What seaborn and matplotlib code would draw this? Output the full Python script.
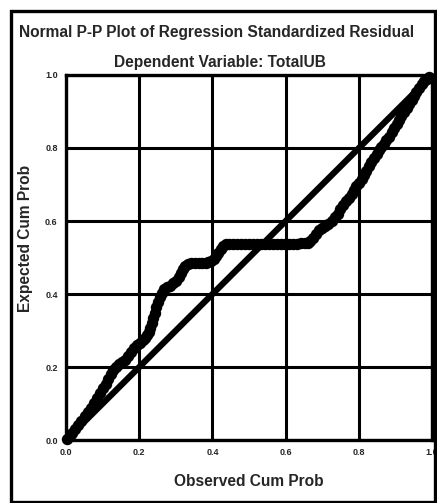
import numpy as np
import pandas as pd
import matplotlib
matplotlib.use("Agg")
import matplotlib.pyplot as plt
import seaborn as sns

# values
observed = [0.003, 0.010, 0.016, 0.024, 0.033, 0.042, 0.052, 0.060, 0.068, 0.076,
            0.085, 0.093, 0.101, 0.108, 0.115, 0.122, 0.129, 0.137, 0.145, 0.153,
            0.162, 0.170, 0.178, 0.186, 0.195, 0.203, 0.211, 0.217, 0.222, 0.226,
            0.230, 0.234, 0.238, 0.242, 0.247, 0.252, 0.258, 0.263, 0.268, 0.276,
            0.285, 0.293, 0.301, 0.308, 0.315, 0.320, 0.326, 0.334, 0.342, 0.352,
            0.362, 0.372, 0.381, 0.389, 0.397, 0.404, 0.411, 0.416, 0.422, 0.429,
            0.436, 0.445, 0.455, 0.466, 0.477, 0.488, 0.499, 0.510, 0.521, 0.532,
            0.543, 0.554, 0.565, 0.576, 0.587, 0.598, 0.609, 0.620, 0.631, 0.642,
            0.652, 0.660, 0.667, 0.674, 0.682, 0.690, 0.698, 0.707, 0.716, 0.726,
            0.734, 0.742, 0.749, 0.756, 0.764, 0.773, 0.780, 0.786, 0.793, 0.800,
            0.807, 0.814, 0.820, 0.827, 0.834, 0.841, 0.848, 0.855, 0.861, 0.868,
            0.875, 0.882, 0.889, 0.896, 0.903, 0.910, 0.916, 0.923, 0.930, 0.937,
            0.944, 0.951, 0.957, 0.964, 0.971, 0.978, 0.985, 0.992]
expected = [0.003, 0.011, 0.019, 0.030, 0.041, 0.053, 0.066, 0.077, 0.088, 0.101,
            0.115, 0.128, 0.142, 0.155, 0.167, 0.180, 0.192, 0.201, 0.208, 0.213,
            0.219, 0.230, 0.241, 0.251, 0.260, 0.267, 0.274, 0.281, 0.288, 0.297,
            0.307, 0.320, 0.334, 0.349, 0.364, 0.378, 0.392, 0.403, 0.414, 0.418,
            0.422, 0.429, 0.436, 0.447, 0.458, 0.468, 0.477, 0.482, 0.485, 0.485,
            0.485, 0.485, 0.485, 0.487, 0.490, 0.497, 0.504, 0.513, 0.523, 0.531,
            0.537, 0.537, 0.537, 0.537, 0.537, 0.537, 0.537, 0.537, 0.537, 0.537,
            0.537, 0.537, 0.537, 0.537, 0.537, 0.537, 0.538, 0.538, 0.538, 0.539,
            0.539, 0.540, 0.546, 0.553, 0.564, 0.575, 0.581, 0.586, 0.593, 0.600,
            0.610, 0.619, 0.632, 0.644, 0.654, 0.663, 0.674, 0.685, 0.695, 0.704,
            0.715, 0.726, 0.738, 0.751, 0.762, 0.773, 0.784, 0.795, 0.803, 0.811,
            0.821, 0.830, 0.843, 0.855, 0.866, 0.877, 0.888, 0.899, 0.910, 0.921,
            0.932, 0.942, 0.953, 0.964, 0.974, 0.984, 0.990, 0.995]
ref_line = [0.0, 1.0]
tick_vals = [0.0, 0.2, 0.4, 0.6, 0.8, 1.0]
tick_labels = ["0.0", "0.2", "0.4", "0.6", "0.8", "1.0"]

df = pd.DataFrame({"obs": observed, "exp": expected})
diag = pd.DataFrame({"x": ref_line, "y": ref_line})

sns.set_style("white")
plt.rcParams["font.family"] = ["Liberation Sans", "DejaVu Sans"]

fig = plt.figure(figsize=(4.37, 5.03), dpi=100)
ax = fig.add_axes([0.151, 0.125, 0.838, 0.726])

sns.lineplot(data=diag, x="x", y="y", color="black", linewidth=4.5, ax=ax, zorder=3)
sns.scatterplot(data=df, x="obs", y="exp", color="black", s=45, edgecolor="black",
                linewidth=1.5, ax=ax, zorder=4, clip_on=False)

ax.set_xlim(0, 1)
ax.set_ylim(0, 1)
ax.set_xticks(tick_vals)
ax.set_yticks(tick_vals)
ax.set_xticklabels(tick_labels, fontsize=6.5, fontweight="bold")
ax.set_yticklabels(tick_labels, fontsize=6.5, fontweight="bold")
ax.tick_params(length=0, pad=6)
ax.grid(True, color="black", linewidth=2.2)
ax.set_axisbelow(True)
for sp in ax.spines.values():
    sp.set_color("black")
    sp.set_linewidth(2.4)

ax.set_xlabel("Observed Cum Prob", fontsize=11.2, fontweight="bold", labelpad=12)
ax.set_ylabel("Expected Cum Prob", fontsize=11.2, fontweight="bold")
ax.yaxis.set_label_coords(-0.09, 0.553)

fig.text(0.495, 1 - 32 / 503, "Normal P-P Plot of Regression Standardized Residual",
         ha="center", va="center", fontsize=11.2, fontweight="bold")
fig.text(0.503, 1 - 62 / 503, "Dependent Variable: TotalUB",
         ha="center", va="center", fontsize=11.2, fontweight="bold")

# outer frame around the whole chart
frame = plt.Rectangle((11 / 437, 1 / 503), 424 / 437, 491 / 503, transform=fig.transFigure,
                      fill=False, edgecolor="black", linewidth=2.4)
fig.patches.append(frame)

fig.savefig("out.png", dpi=100)
